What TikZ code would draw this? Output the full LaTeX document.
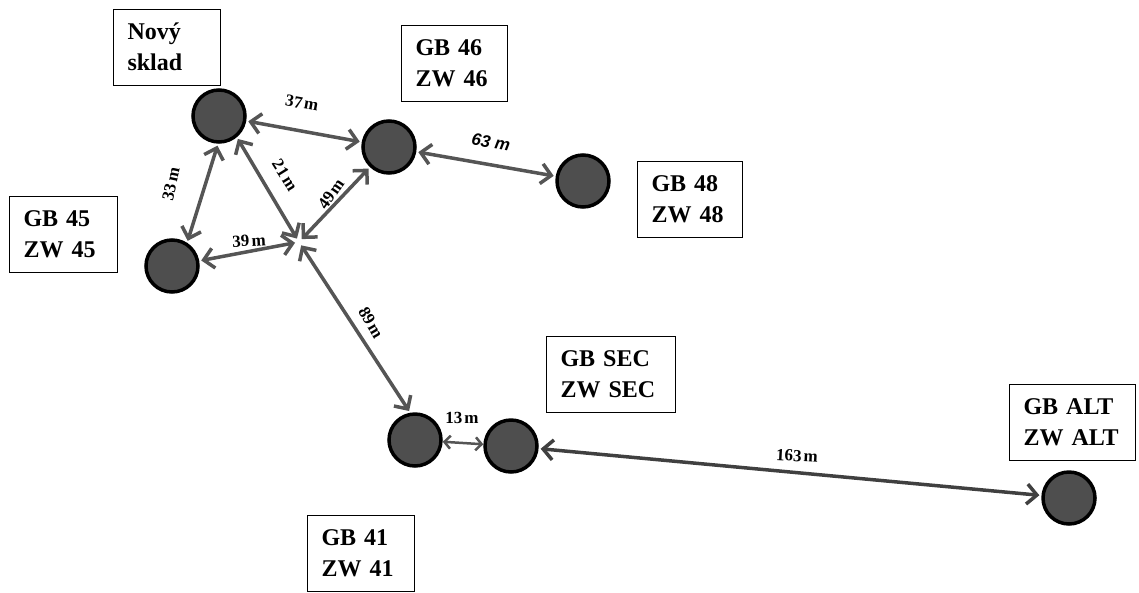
\documentclass[tikz,border=0pt]{standalone}
\usepackage{fontspec}
\setmainfont{Liberation Serif}[WordSpace=0.5]
\setsansfont{Liberation Sans}
\usetikzlibrary{arrows.meta}
\definecolor{dotgray}{RGB}{78,78,78}
\definecolor{linkgray}{RGB}{85,85,85}

\begin{document}
\begin{tikzpicture}[
  x=1pt, y=-1pt,
  site/.style={circle, draw=black, line width=3.5pt, fill=dotgray, minimum size=52pt, inner sep=0pt},
  box/.style={draw, line width=1pt, align=left, inner xsep=14pt, minimum height=76pt, text width=#1, font=\fontsize{24}{31}\selectfont\bfseries},
  box/.default=79pt,
  dist/.style={font=\fontsize{17}{17}\selectfont\bfseries, inner sep=1pt},
  link/.style={arrows={Straight Barb[length=10pt, width=20pt]-Straight Barb[length=10pt, width=20pt]}, draw=linkgray, line width=3.5pt, shorten <=2pt, shorten >=2pt},
  short link/.style={arrows={Straight Barb[length=6pt, width=13pt]-Straight Barb[length=6pt, width=13pt]}, draw=linkgray, line width=2.5pt},
  tohub/.style={shorten >=4pt},
  fromhub/.style={shorten <=4pt}
]
\useasboundingbox (0,0) rectangle (1139,592);

% storage sites
\node[site] (nov) at (219,116) {};
\node[site] (g46) at (389,147) {};
\node[site] (g48) at (583,181) {};
\node[site] (g45) at (172,266) {};
\node[site] (g41) at (415,440) {};
\node[site] (sec) at (511,446) {};
\node[site] (alt) at (1069,498) {};
\coordinate (hub) at (299,242);

% name boxes
\node[box] (bnov) at (167,47) {Nový\\sklad};
\node[box=78pt] (b46) at (454.5,63) {GB 46\\ZW 46};
\node[box=77pt] (b48) at (690,199) {GB 48\\ZW 48};
\node[box=80pt] (b45) at (63.5,234.5) {GB 45\\ZW 45};
\node[box=101pt] (bsec) at (611,374) {GB SEC\\ZW SEC};
\node[box=98pt] (balt) at (1072.5,422) {GB ALT\\ZW ALT};
\node[box] (b41) at (361,553) {GB 41\\ZW 41};

% connections
\draw[link] (nov) -- (g46);
\draw[link] (g46) -- (g48);
\draw[link] (nov.268) -- (g45.57);
\draw[link, tohub] (nov.-50) -- (hub);
\draw[link, tohub] (g45) -- (hub);
\draw[link, fromhub] (hub) -- (g46);
\draw[link, fromhub] (hub) -- (g41.100);
\draw[short link] (g41) -- (sec);
\draw[link, draw=black!75] (sec) -- (alt);

% distances
\node[dist, rotate=-10] (d37) at (302,103) {37 m};
\node[dist, rotate=-10, font=\fontsize{17}{17}\selectfont\sffamily\bfseries\itshape] (d63) at (491,142) {63 m};
\node[dist, rotate=78] (d33) at (171,184) {33 m};
\node[dist, rotate=-58] (d21) at (285,175) {21 m};
\node[dist, rotate=55] (d49) at (331,194) {49 m};
\node[dist, rotate=3] (d39) at (249,241) {39 m};
\node[dist, rotate=-60] (d89) at (371,323) {89 m};
\node[dist] (d13) at (462,418) {13 m};
\node[dist, rotate=-3] (d163) at (797,456) {163 m};
\end{tikzpicture}
\end{document}
